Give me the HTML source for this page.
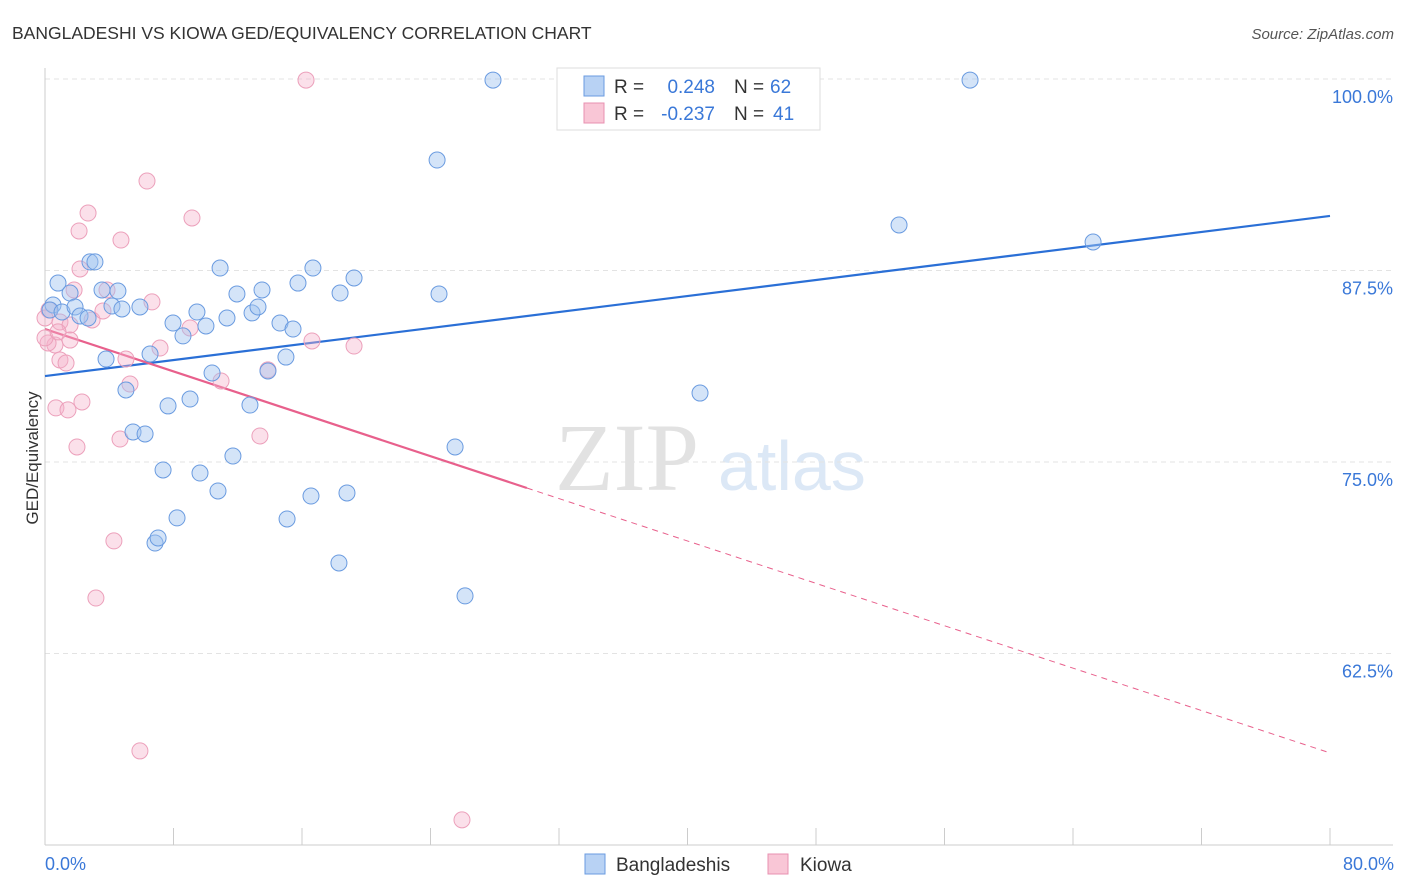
<!DOCTYPE html>
<html><head><meta charset="utf-8"><style>
body{margin:0;background:#fff;font-family:"Liberation Sans",sans-serif;}
svg{display:block}
</style></head><body>
<svg id="chart" width="1406" height="892">
<text x="12" y="39" font-size="17.5" fill="#333">BANGLADESHI VS KIOWA GED/EQUIVALENCY CORRELATION CHART</text>
<text x="1394" y="39" font-size="15" fill="#555" font-style="italic" text-anchor="end">Source: ZipAtlas.com</text>
<text x="38" y="458" font-size="17" fill="#333" transform="rotate(-90 38 458)" text-anchor="middle">GED/Equivalency</text>
<text x="555" y="490" font-size="96" fill="#e2e2e2" font-family="Liberation Serif,serif">ZIP</text>
<text x="718" y="490" font-size="70" fill="#dce8f6">atlas</text>
<g id="grid"></g><g id="axes"></g><g id="trends"></g><g id="pts"></g>
<g>
<rect x="557" y="68" width="263" height="62" fill="#fff" stroke="#ddd"/>
<rect x="584" y="76" width="20" height="20" fill="#b8d2f4" stroke="#6a9be0"/>
<rect x="584" y="103" width="20" height="20" fill="#f9c6d6" stroke="#e890b0"/>
<text x="614" y="93" font-size="19" fill="#333">R =</text>
<text x="715" y="93" font-size="19" fill="#3a78d8" text-anchor="end">0.248</text>
<text x="734" y="93" font-size="19" fill="#333">N =</text>
<text x="770" y="93" font-size="19" fill="#3a78d8">62</text>
<text x="614" y="120" font-size="19" fill="#333">R =</text>
<text x="715" y="120" font-size="19" fill="#3a78d8" text-anchor="end">-0.237</text>
<text x="734" y="120" font-size="19" fill="#333">N =</text>
<text x="773" y="120" font-size="19" fill="#3a78d8">41</text>
</g>
<g>
<rect x="585" y="854" width="20" height="20" fill="#b8d2f4" stroke="#6a9be0"/>
<text x="616" y="871" font-size="19" fill="#333">Bangladeshis</text>
<rect x="768" y="854" width="20" height="20" fill="#f9c6d6" stroke="#e890b0"/>
<text x="800" y="871" font-size="19" fill="#333">Kiowa</text>
</g>
</svg>
<script>
const blueX=[0.50,0.81,0.31,1.06,1.56,1.87,2.18,2.68,2.80,3.11,3.55,3.80,4.17,4.54,4.79,5.04,5.48,5.91,6.23,6.54,6.85,7.04,7.35,7.66,7.97,8.22,8.59,9.03,9.46,9.65,10.02,10.40,10.77,10.90,11.33,11.70,11.95,12.76,12.89,13.26,13.51,13.88,14.63,15.00,15.07,15.44,15.75,16.56,16.68,18.30,18.37,18.80,19.24,24.53,24.41,25.53,26.15,27.89,40.78,53.17,57.59,65.25];
const blueY=[85.25,86.68,84.92,84.79,86.03,85.12,84.53,84.40,88.06,88.06,86.23,81.72,85.18,86.16,84.99,79.70,76.96,85.12,76.83,82.05,69.71,70.04,74.48,78.66,84.07,71.35,83.23,79.11,84.79,74.28,83.88,80.81,73.11,87.66,84.40,75.39,85.97,78.72,84.73,85.12,86.23,80.94,84.07,81.85,71.28,83.68,86.68,72.78,87.66,68.41,86.03,72.98,87.01,85.97,94.71,75.98,66.26,99.93,79.50,90.47,99.93,89.36];
const pinkX=[16.25,6.35,9.15,2.68,2.12,4.73,2.18,1.81,3.86,6.66,0.25,0,0.93,2.93,1.56,3.61,9.03,0.62,1.56,0.19,0.93,1.31,5.04,7.16,16.62,19.24,5.29,10.96,13.88,2.30,0.68,1.43,4.67,13.38,1.99,4.29,3.17,5.91,25.96,0,0.81];
const pinkY=[99.93,93.34,90.93,91.25,90.08,89.49,87.60,86.23,86.23,85.45,84.92,84.40,84.14,84.27,83.94,84.86,83.75,82.64,82.96,82.77,81.66,81.46,81.72,82.44,82.90,82.57,80.09,80.29,81.01,78.92,78.53,78.40,76.50,76.70,75.98,69.85,66.12,56.14,51.64,83.10,83.49];
const yTicks=[100,87.5,75,62.5];
const yTickLabels=["100.0%","87.5%","75.0%","62.5%"];
const xTickLabels=["0.0%","80.0%"];
const blueTrend=[80.61,91.06];
const pinkTrend=[83.68,56.01];
const pinkSolidEnd=30;
const NS="http://www.w3.org/2000/svg";
const sx=v=>45+v*(1285/80);
const sy=v=>79+(100-v)*(191.5/12.5);
function mk(tag,attrs,parent){const e=document.createElementNS(NS,tag);for(const k in attrs)e.setAttribute(k,attrs[k]);document.getElementById(parent).appendChild(e);return e;}
yTicks.forEach((t,i)=>{
 const l=mk('line',{x1:45,x2:1393,y1:sy(t),y2:sy(t),stroke:'#e3e3e3','stroke-dasharray':'5,4'},'grid');
 
 
 const tx=mk('text',{x:1393,y:sy(t)+24,'font-size':18,fill:'#3a78d8','text-anchor':'end'},'grid');
 tx.textContent=yTickLabels[i];
 
 
});
const ax=mk('line',{x1:45,x2:45,y1:68,y2:845,stroke:'#ccc'},'axes');


const bx=mk('line',{x1:45,x2:1393,y1:845,y2:845,stroke:'#ccc'},'axes');


for(let i=0;i<=10;i++){
 const t=mk('line',{x1:sx(i*8),x2:sx(i*8),y1:828,y2:845,stroke:'#ccc'},'axes');
 
 
}
[[0,'start'],[80,'end']].forEach((d,i)=>{
 const t=mk('text',{x:sx(d[0])+(i?64:0),y:870,'font-size':18,fill:'#3a78d8','text-anchor':d[1]},'axes');
 t.textContent=xTickLabels[i];
 
 
});
const bt=mk('line',{x1:sx(0),y1:sy(blueTrend[0]),x2:sx(80),y2:sy(blueTrend[1]),stroke:'#2a6fd6','stroke-width':2.2},'trends');


const pAt=x=>pinkTrend[0]+(pinkTrend[1]-pinkTrend[0])*x/80;
const ps=mk('line',{x1:sx(0),y1:sy(pinkTrend[0]),x2:sx(pinkSolidEnd),y2:sy(pAt(pinkSolidEnd)),stroke:'#e8608c','stroke-width':2.2},'trends');


const pd=mk('line',{x1:sx(pinkSolidEnd),y1:sy(pAt(pinkSolidEnd)),x2:sx(80),y2:sy(pinkTrend[1]),stroke:'#e8608c','stroke-width':1,'stroke-dasharray':'6,5'},'trends');


pinkX.forEach((x,i)=>{
 const c=mk('circle',{cx:sx(x),cy:sy(pinkY[i]),r:8,fill:'rgba(246,178,202,0.4)',stroke:'#eca0bb','stroke-width':1},'pts');
 
 
});
blueX.forEach((x,i)=>{
 const c=mk('circle',{cx:sx(x),cy:sy(blueY[i]),r:8,fill:'rgba(160,196,240,0.45)',stroke:'#6a9be0','stroke-width':1},'pts');
 
 
});
</script>
</body></html>
